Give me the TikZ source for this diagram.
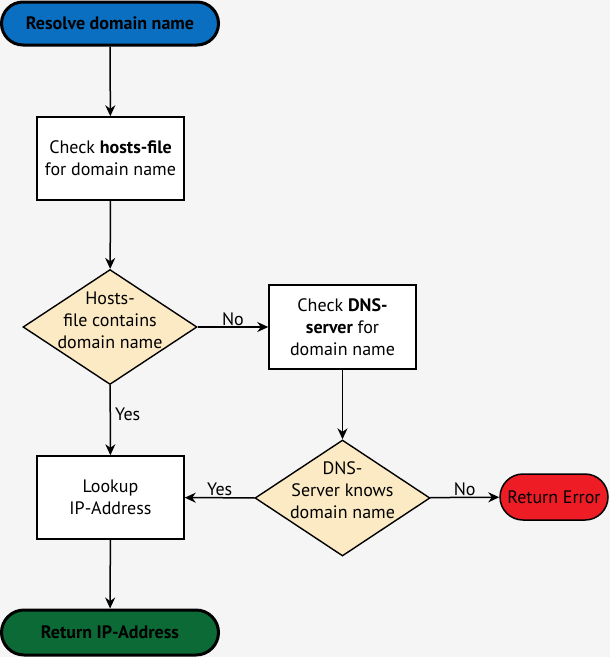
\documentclass[tikz,border=0pt]{standalone}
\usepackage{fontspec}
\setmainfont{PT Sans}
\usetikzlibrary{shapes.geometric,shapes.misc,arrows.meta}
\definecolor{bg}{HTML}{F5F5F5}
\definecolor{startblue}{HTML}{0B6FC1}
\definecolor{endgreen}{HTML}{0B6A35}
\definecolor{errred}{HTML}{EE1C24}
\definecolor{decbeige}{HTML}{FBEAC4}
\tikzset{
  x=1pt, y=-1pt,
  txt/.style={font=\fontsize{18}{22}\selectfont, align=center},
  term/.style={rounded rectangle, draw=black, line width=3pt, minimum height=43pt, inner sep=0pt, txt, font=\fontsize{18}{22}\selectfont\bfseries},
  procbox/.style={rectangle, draw=black, fill=white, line width=1.5pt, minimum width=147pt, minimum height=83pt, inner sep=0pt, txt},
  decision/.style={diamond, draw=black, fill=decbeige, line width=1.4pt, minimum width=174pt, minimum height=115pt, inner sep=0pt},
  conn/.style={line width=1.5pt, -{Stealth[length=11pt,width=10pt]}},
  lbl/.style={font=\fontsize{18}{22}\selectfont, inner sep=1pt}
}
\begin{document}
\begin{tikzpicture}
\fill[bg] (0,0) rectangle (610,657);
\useasboundingbox (0,0) rectangle (610,657);

\node[term, fill=startblue, minimum width=217pt] (start) at (110,23.5) {Resolve domain name};
\node[procbox] (hosts) at (110.5,158.5) {Check \textbf{hosts-file}\\for domain name};
\node[decision] (d1) at (110,327) {};
\node[txt] (d1t) at (110,320) {Hosts-\\file contains\\domain name};
\node[procbox, minimum height=84pt] (dns) at (342.5,327) {Check \textbf{DNS-}\\\textbf{server} for\\domain name};
\node[decision, minimum width=175pt, minimum height=116pt] (d2) at (342.5,498) {};
\node[txt] (d2t) at (342.5,490) {DNS-\\Server knows\\domain name};
\node[rounded rectangle, draw=black, line width=1.5pt, fill=errred, minimum width=108pt, minimum height=46pt, inner sep=0pt, txt] (err) at (554,497) {Return Error};
\node[procbox] (lookup) at (110.5,497.5) {Lookup\\IP-Address};
\node[term, fill=endgreen, minimum width=217pt, minimum height=45pt] (ret) at (110,632.5) {Return IP-Address};

\draw[conn] (start) -- (hosts);
\draw[conn] (hosts) -- (d1);
\draw[conn] (d1) -- node[lbl, above] (no1) {No} (dns);
\draw[conn] (d1) -- node[lbl, right=3pt, pos=0.42] (yes1) {Yes} (lookup);
\draw[conn] (dns) -- (d2);
\draw[conn] (d2) -- node[lbl, above] (yes2) {Yes} (lookup);
\draw[conn] (d2) -- node[lbl, above] (no2) {No} (err);
\draw[conn] (lookup) -- (ret);
\end{tikzpicture}
\end{document}
